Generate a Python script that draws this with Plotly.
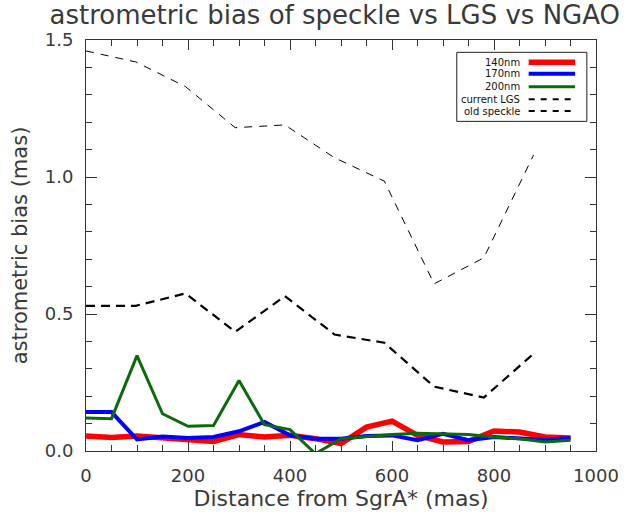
import plotly.graph_objects as go

# ---- data ----
x_fine = [0, 50, 100, 150, 200, 250, 300, 350, 400, 450, 500, 550, 600, 650, 700, 750, 800, 850, 900, 950]
bias_140nm = [0.055, 0.049, 0.055, 0.047, 0.041, 0.035, 0.060, 0.051, 0.057, 0.045, 0.027, 0.087, 0.109, 0.057, 0.033, 0.035, 0.073, 0.069, 0.051, 0.047]
bias_170nm = [0.142, 0.142, 0.042, 0.053, 0.047, 0.051, 0.072, 0.106, 0.057, 0.045, 0.045, 0.055, 0.057, 0.039, 0.063, 0.039, 0.051, 0.045, 0.041, 0.047]
bias_200nm = [0.120, 0.118, 0.348, 0.136, 0.090, 0.093, 0.257, 0.096, 0.078, -0.010, 0.045, 0.053, 0.060, 0.065, 0.063, 0.060, 0.051, 0.045, 0.033, 0.039]

x_coarse = [0, 97.5, 195, 292.5, 390, 487.5, 585, 682.5, 780, 877.5]
bias_lgs = [0.530, 0.530, 0.575, 0.435, 0.565, 0.425, 0.395, 0.235, 0.195, 0.355]
bias_speckle = [1.460, 1.420, 1.330, 1.180, 1.190, 1.070, 0.985, 0.610, 0.705, 1.080]

x_ticks = [0, 200, 400, 600, 800, 1000]
x_minor_step = 50
y_ticks = [0.0, 0.5, 1.0, 1.5]
y_minor_step = 0.1

series = [
    dict(name="140nm", x=x_fine, y=bias_140nm, color="#ff0000", width=5.5, dash="solid"),
    dict(name="170nm", x=x_fine, y=bias_170nm, color="#0000ff", width=4, dash="solid"),
    dict(name="200nm", x=x_fine, y=bias_200nm, color="#0b6b0b", width=3, dash="solid"),
    dict(name="current LGS", x=x_coarse, y=bias_lgs, color="#000000", width=2.2, dash="9px,6px"),
    dict(name="old speckle", x=x_coarse, y=bias_speckle, color="#000000", width=1, dash="8px,7px"),
]

TXT = "#3a3a3a"
AX = "#333333"
FONT = "DejaVu Sans"

fig = go.Figure()
for s in series:
    fig.add_trace(go.Scatter(
        x=s["x"], y=s["y"], mode="lines", name=s["name"],
        line=dict(color=s["color"], width=s["width"], dash=s["dash"]),
        showlegend=False,
    ))

# ---- custom IDL-style legend (text left, line sample right) ----
shapes = [dict(type="rect", xref="paper", yref="paper", x0=0.727, x1=0.982, y0=0.802, y1=0.970,
               line=dict(color="#222222", width=1), fillcolor="white", layer="above")]
annotations = []
row_y = [0.946, 0.918, 0.886, 0.856, 0.827]
for s, ry in zip(series, row_y):
    annotations.append(dict(xref="paper", yref="paper", x=0.855, y=ry, text=s["name"], showarrow=False,
                            xanchor="right", yanchor="middle", font=dict(family=FONT, size=10, color="#111111")))
    shapes.append(dict(type="line", xref="paper", yref="paper", x0=0.868, x1=0.959, y0=ry, y1=ry,
                       line=dict(color=s["color"], width=s["width"] if s["dash"] == "solid" else 2,
                                 dash=s["dash"] if s["dash"] == "solid" else "6px,6px"), layer="above"))

fig.update_layout(
    width=634, height=516,
    margin=dict(l=85.5, r=38, t=39.5, b=64.5, autoexpand=False),
    paper_bgcolor="white", plot_bgcolor="white",
    title=dict(text="astrometric bias of speckle vs LGS vs NGAO", x=0.528, xanchor="center",
               y=0.972, yanchor="middle", font=dict(family=FONT, size=26, color=TXT)),
    font=dict(family=FONT, size=18, color=TXT),
    shapes=shapes, annotations=annotations,
)
fig.update_xaxes(
    automargin=False,
    range=[x_ticks[0], x_ticks[-1]], tickmode="linear", tick0=x_ticks[0], dtick=x_ticks[1] - x_ticks[0],
    ticks="inside", ticklen=10, tickcolor=AX, tickwidth=1,
    minor=dict(tickmode="linear", dtick=x_minor_step, ticks="inside", ticklen=6, tickcolor=AX, tickwidth=1, showgrid=False),
    showline=True, linecolor=AX, linewidth=1, mirror="allticks", showgrid=False, zeroline=False,
    ticklabelstandoff=8,
    title=dict(text="Distance from SgrA* (mas)", font=dict(family=FONT, size=22, color=TXT), standoff=4),
)
fig.update_yaxes(
    automargin=False,
    range=[y_ticks[0], y_ticks[-1]], tickmode="linear", tick0=y_ticks[0], dtick=y_ticks[1] - y_ticks[0],
    tickformat=".1f",
    ticks="inside", ticklen=11, tickcolor=AX, tickwidth=1,
    minor=dict(tickmode="linear", dtick=y_minor_step, ticks="inside", ticklen=6, tickcolor=AX, tickwidth=1, showgrid=False),
    showline=True, linecolor=AX, linewidth=1, mirror="allticks", showgrid=False, zeroline=False,
    ticklabelstandoff=8,
    title=dict(text="astrometric bias (mas)", font=dict(family=FONT, size=21, color=TXT), standoff=11),
)

# remove the browser's default 8px page margin so the figure sits at the window origin
fig.write_html("out.html", config={"displayModeBar": False},
               post_script="document.body.style.margin='0px';")
